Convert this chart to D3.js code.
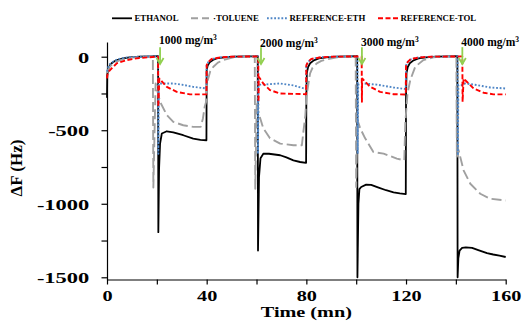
<!DOCTYPE html>
<html>
<head>
<meta charset="utf-8">
<script src="https://cdn.jsdelivr.net/npm/d3@7"></script>
<style>
  body { margin: 0; background: #fff; }
  text { font-family: "Liberation Serif", "Times New Roman", serif; font-weight: bold; fill: #000; }
</style>
</head>
<body>
<div class="chart"></div>
<script>
// [time (mn), deltaF (Hz)]
let ethanol = [
  [0,-280],[0.1,-125],[0.4,-90],[1.2,-57],[2,-42],[3,-31],[4,-23],[6,-13],[9,-4],[13,0],[17,2],[20.5,3],
  [20.6,-1193],[20.9,-760],[21.3,-590],[22,-522],[24,-507],[26.6,-514],[30.6,-534],[34.6,-557],[37.5,-565],[39.9,-568],
  [40,-90],[40.4,-60],[41.2,-38],[42.5,-22],[44,-12],[47,-4],[51,0],[56,2],[60.5,3],
  [60.6,-1318],[61,-820],[61.6,-690],[62.8,-659],[65,-660],[69.5,-670],[72,-685],[74.8,-705],[77.5,-716],[79.9,-722],
  [80,-273],[80.2,-110],[80.7,-70],[81.5,-45],[83,-25],[85,-12],[88,-4],[92,0],[97,2],[100.4,3],
  [100.5,-1500],[100.9,-1000],[101.3,-900],[102,-886],[104,-870],[106,-872],[109,-890],[112,-908],[115,-922],[117.5,-930],[119.9,-934],
  [120,-273],[120.2,-110],[120.7,-70],[121.5,-45],[123,-25],[125,-12],[128,-4],[132,0],[137,2],[140.6,3],
  [140.7,-1500],[141,-1370],[141.5,-1318],[142.5,-1300],[144,-1297],[146.5,-1300],[149,-1315],[152.5,-1336],[155,-1345],[157.5,-1352],[160,-1362]
];

let toluene = [
  [0,-110],[0.5,-85],[1,-70],[2,-52],[3,-40],[5,-25],[7,-15],[10,-6],[14,0],[18.4,3],
  [18.6,-890],[19.5,-182],[21.3,-307],[24,-397],[26.6,-443],[30.6,-466],[34.6,-477],[37.6,-477],[38.5,-420],[39.2,-340],[39.9,-300],
  [40,-200],[40.6,-150],[41.4,-100],[42.7,-68],[44.5,-40],[46.7,-23],[50.7,-5],[55,0],[59.3,3],
  [59.5,-898],[60.1,-307],[60.7,-375],[62.7,-486],[65.4,-555],[69.5,-591],[74.8,-602],[78.2,-602],[78.8,-511],[79.6,-400],
  [80,-273],[81.5,-113],[82.5,-75],[84.2,-45],[86,-28],[88.2,-18],[92.3,-4],[96,0],[99.8,3],
  [100,-886],[100.5,-430],[101.6,-486],[103.6,-555],[106.9,-648],[111,-659],[116.3,-693],[119.3,-705],[119.7,-453],
  [120.6,-250],[121.7,-159],[123.7,-68],[127,-23],[131,-4],[135,0],[140.2,3],
  [140.4,-680],[141.1,-636],[143.1,-773],[145.8,-864],[149.8,-932],[153.8,-966],[160,-978]
];

let refEth = [
  [0,-100],[0.5,-70],[1.2,-50],[2,-38],[4,-20],[6,-10],[9,-3],[13,0],[20.5,3],
  [20.6,-660],[20.8,-182],[22,-182],[26.6,-182],[30,-190],[34.6,-205],[39.9,-216],
  [40,-60],[40.7,-35],[42,-18],[44,-8],[47,-2],[52,0],[60.5,3],
  [60.6,-660],[60.8,-190],[62.7,-190],[69.5,-182],[74.8,-195],[79.9,-220],
  [80,-60],[80.7,-35],[82,-18],[84,-8],[87,-2],[92,0],[100.5,3],
  [100.6,-660],[100.8,-190],[103,-182],[108.3,-190],[115,-209],[119.9,-220],
  [120,-60],[120.7,-35],[122,-18],[124,-8],[127,-2],[132,0],[140.7,3],
  [140.8,-670],[141,-193],[142.4,-193],[143.8,-182],[148.5,-193],[153.8,-209],[160,-216]
];

let refTol = [
  [0,-148],[0.3,-110],[1.2,-91],[3.9,-45],[7.9,-23],[11.9,-11],[16.6,-4],[20.5,0],
  [20.6,-341],[21,-148],[24,-205],[28,-239],[33.3,-256],[39.9,-256],
  [40,-57],[40.7,-35],[42,-15],[45.4,-5],[50,0],[60.7,2],
  [60.8,-307],[60.9,-136],[62.7,-182],[65.4,-227],[69.5,-250],[79.9,-255],
  [80,-57],[80.7,-35],[82,-15],[85.4,-5],[90,0],[102.2,2],
  [102.3,-307],[102.4,-148],[105.6,-205],[109.6,-239],[115,-255],[119.9,-257],
  [120,-57],[120.7,-35],[122,-15],[125.4,-5],[130,0],[142.6,2],
  [142.7,-307],[143.1,-148],[144.4,-170],[147.1,-216],[151.1,-245],[155.1,-256],[160,-256]
];

let seriesNames = ["ETHANOL", "TOLUENE", "REFERENCE-ETH", "REFERENCE-TOL"];
let xTicks = [0, 20, 40, 60, 80, 100, 120, 140, 160];
let xLabels = [0, 40, 80, 120, 160];
let yTicks = [-1500, -1250, -1000, -750, -500, -250, 0];
let yLabels = [-1500, -1000, -500, 0];
let arrowTimes = [21.3, 61.8, 102.3, 142.6];
let concLabels = ["1000", "2000", "3000", "4000"];

const W = 524, H = 331;
const styles = [
  { color: "#000000", width: 1.8, dash: null },
  { color: "#a0a0a0", width: 1.9, dash: "10,4" },
  { color: "#4f86c6", width: 1.9, dash: "1.8,1.8" },
  { color: "#ff0000", width: 1.9, dash: "5,2.5" }
];

let svg = d3.select(".chart").append("svg")
  .attr("width", W)
  .attr("height", H);

let x = d3.scaleLinear().domain([0, 160]).range([107, 505.7]);
let y = d3.scaleLinear().domain([-1515, 100]).range([279.5, 42]);

// axes
let yAxis = d3.axisLeft(y)
  .tickValues(yTicks)
  .tickSize(5.5)
  .tickSizeOuter(0)
  .tickFormat(d => yLabels.includes(d) ? d : "");
let gy = svg.append("g")
  .attr("transform", `translate(${x(0)},0)`)
  .call(yAxis);
gy.selectAll("text")
  .attr("x", -12.2)
  .attr("dy", "0.36em")
  .attr("transform", "scale(1.45,1)")
  .style("font-size", "15.5px");

let xAxis = d3.axisBottom(x)
  .tickValues(xTicks)
  .tickSize(5)
  .tickSizeOuter(0)
  .tickFormat(d => xLabels.includes(d) ? d : "");
let gx = svg.append("g")
  .attr("transform", `translate(0,${y(-1515)})`)
  .call(xAxis);
gx.selectAll("text")
  .attr("y", 11)
  .attr("dy", "0.71em")
  .attr("transform", "scale(1.35,1)")
  .style("font-size", "15px");

svg.selectAll(".domain, .tick line").attr("stroke", "#000").attr("stroke-width", 1.2);
svg.selectAll(".tick text").attr("font-family", null).attr("font-size", null);

svg.append("text")
  .attr("transform", `translate(${x(80)},317) scale(1.35,1)`)
  .attr("text-anchor", "middle")
  .style("font-size", "15px")
  .text("Time (mn)");

svg.append("text")
  .attr("transform", "translate(22,168) rotate(-90)")
  .attr("text-anchor", "middle")
  .style("font-size", "17px")
  .text("\u0394F (Hz)");

// lines
let line = d3.line().x(d => x(d[0])).y(d => y(d[1]));
let data = [ethanol, toluene, refEth, refTol];

svg.append("g").selectAll("path")
  .data(data)
  .enter()
  .append("path")
  .attr("d", line)
  .attr("fill", "none")
  .attr("stroke", (d, i) => styles[i].color)
  .attr("stroke-width", (d, i) => styles[i].width)
  .attr("stroke-dasharray", (d, i) => styles[i].dash)
  .attr("stroke-linejoin", "round");

// arrows + concentration labels
let labelDy = [0, 3.5, 2, 2];
arrowTimes.forEach((t, i) => {
  let ax = x(t), top = y(65), bot = y(-50);
  svg.append("line")
    .attr("x1", ax).attr("x2", ax)
    .attr("y1", top).attr("y2", bot)
    .attr("stroke", "#92d050").attr("stroke-width", 1.8);
  svg.append("polyline")
    .attr("points", `${ax - 3.5},${bot - 6} ${ax},${bot} ${ax + 3.5},${bot - 6}`)
    .attr("fill", "none")
    .attr("stroke", "#92d050").attr("stroke-width", 1.8);
  let lbl = svg.append("text")
    .attr("x", ax - 1)
    .attr("y", 43.5 + labelDy[i])
    .style("font-size", "11.5px");
  lbl.append("tspan").text(concLabels[i] + " mg/m");
  lbl.append("tspan").attr("dy", -4).style("font-size", "7.5px").text("3");
});

// legend
let legendX = [112, 191, 267, 378];
let legend = svg.append("g");
seriesNames.forEach((name, i) => {
  let lx = legendX[i];
  legend.append("line")
    .attr("x1", lx).attr("x2", lx + 20)
    .attr("y1", 18.3).attr("y2", 18.3)
    .attr("stroke", styles[i].color)
    .attr("stroke-width", styles[i].width)
    .attr("stroke-dasharray", i == 1 ? "7,4" : styles[i].dash);
  legend.append("text")
    .attr("x", lx + (i == 1 ? 22 : 22.5))
    .attr("y", 21.2)
    .style("font-size", "8.8px")
    .text(i == 1 ? "\u00B7" + name : name);
});
</script>
</body>
</html>
